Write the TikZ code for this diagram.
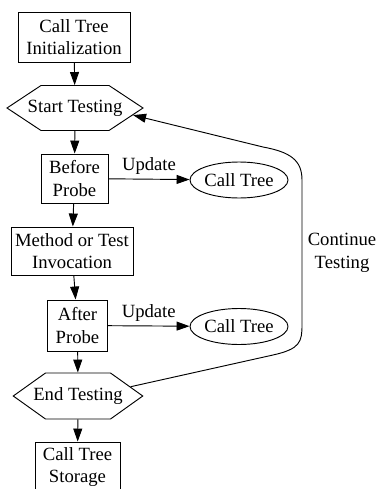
\documentclass[tikz,border=0pt]{standalone}
\usepackage{fontspec}
\setmainfont{Liberation Serif}
\usepackage{tikz}
\usetikzlibrary{shapes.geometric,shapes.symbols,arrows.meta}

\begin{document}
\begin{tikzpicture}[x=0.75pt,y=-0.75pt,line width=0.7pt,
  font=\fontsize{14}{16.8}\selectfont,
  box/.style={draw,rectangle,inner sep=0pt,align=center},
  hexa/.style={draw,signal,signal to=west and east,inner sep=0pt},
  oval/.style={draw,ellipse,inner sep=0pt,minimum width=70.5pt,minimum height=27pt},
  arr/.style={-{Triangle[length=9.75pt,width=6.75pt]}}]
\useasboundingbox (0,0) rectangle (383,489);
\node[box,minimum width=84pt,minimum height=37.5pt] (init) at (74,37) {Call Tree\\Initialization};
\node[hexa,signal pointer angle=67,minimum height=33.75pt] (start) at (75,108) {\makebox[51pt]{Start Testing}};
\node[box,minimum width=50.25pt,minimum height=36.75pt] (before) at (74.5,178.5) {Before\\Probe};
\node[oval] (ct1) at (239,180) {Call Tree};
\node[box,minimum width=91.5pt,minimum height=36pt] (method) at (72,251) {Method or Test\\Invocation};
\node[box,minimum width=45pt,minimum height=38.25pt] (after) at (77.5,325.5) {After\\Probe};
\node[oval] (ct2) at (239,326.5) {Call Tree};
\node[hexa,signal pointer angle=71,minimum height=34.5pt] (endt) at (78,396) {\makebox[48.75pt]{End Testing}};
\node[box,minimum width=63.75pt,minimum height=37.5pt] (store) at (77.5,467) {Call Tree\\Storage};
\node[align=center] (cont) at (342,253) {Continue\\Testing};
\draw[arr] (init) -- (start);
\draw[arr] (start) -- (before);
\draw[arr] (before) -- (method);
\draw[arr] (method) -- (after);
\draw[arr] (after) -- (endt);
\draw[arr] (endt) -- (store);
\draw[arr] (before) -- node[above,inner sep=3pt] (upd1) {Update} (ct1);
\draw[arr] (after) -- node[above,inner sep=3pt] (upd2) {Update} (ct2);
\draw[arr] (endt.10) -- (273,355) .. controls (300,349) and (302,342) .. (302,325)
  -- (302,180) .. controls (302,160) and (290,152) .. (263,147) -- (start.-7);
\end{tikzpicture}
\end{document}
